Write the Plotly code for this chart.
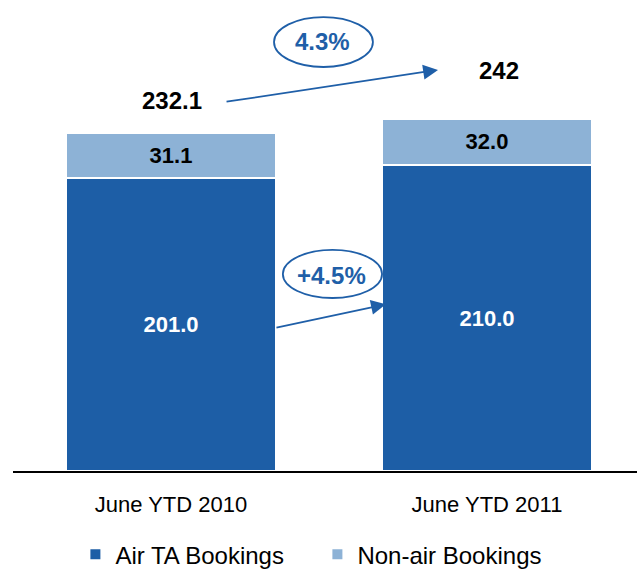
import plotly.graph_objects as go

# Bookings by period (millions)
periods = ["June YTD 2010", "June YTD 2011"]
air_ta = [201.0, 210.0]
non_air = [31.1, 32.0]
total_labels = ["232.1", "242"]
growth_total = "4.3%"
growth_air = "+4.5%"

DARK = "#1D5EA6"
LIGHT = "#8DB2D6"
ACCENT = "#1F5FA8"
FONT = "Liberation Sans, Arial, sans-serif"

totals = [a + n for a, n in zip(air_ta, non_air)]

fig = go.Figure()
fig.add_trace(go.Bar(
    name="Air TA Bookings", x=periods, y=air_ta,
    marker=dict(color=DARK, line=dict(color="white", width=2)),
    text=[f"{v:.1f}" for v in air_ta], textposition="inside",
    insidetextanchor="middle", textangle=0,
    textfont=dict(color="white", size=22, family=FONT, weight="bold"),
    width=0.665,
))
fig.add_trace(go.Bar(
    name="Non-air Bookings", x=periods, y=non_air,
    marker=dict(color=LIGHT, line=dict(color="white", width=2)),
    text=[f"{v:.1f}" for v in non_air], textposition="inside",
    insidetextanchor="middle", textangle=0,
    textfont=dict(color="black", size=22, family=FONT, weight="bold"),
    width=0.665,
))

# Totals above each stack
fig.add_annotation(x=periods[0], y=totals[0], text=total_labels[0],
                   showarrow=False, yshift=32, xshift=1,
                   font=dict(size=24, color="black", family=FONT, weight="bold"))
fig.add_annotation(x=periods[1], y=totals[1], text=total_labels[1],
                   showarrow=False, yshift=48, xshift=12,
                   font=dict(size=24, color="black", family=FONT, weight="bold"))

# Growth arrows (numeric positions along the category axis)
fig.add_annotation(x=0.845, y=275.4, ax=0.171, ay=253.4,
                   xref="x", yref="y", axref="x", ayref="y",
                   showarrow=True, arrowhead=2, arrowsize=1.65,
                   arrowwidth=1.8, arrowcolor=ACCENT, text="")
fig.add_annotation(x=0.68, y=114.5, ax=0.329, ay=98.2,
                   xref="x", yref="y", axref="x", ayref="y",
                   showarrow=True, arrowhead=2, arrowsize=1.65,
                   arrowwidth=1.8, arrowcolor=ACCENT, text="")

# Growth rates in ellipses
fig.add_shape(type="circle", xref="x", yref="y",
              x0=0.326, x1=0.639, y0=277.4, y1=311.7,
              line=dict(color=ACCENT, width=1.8), fillcolor="white")
fig.add_annotation(x=0.481, y=294.6, text=growth_total, showarrow=False,
                   font=dict(size=24, color=ACCENT, family=FONT, weight="bold"))
fig.add_shape(type="circle", xref="x", yref="y",
              x0=0.354, x1=0.668, y0=118.8, y1=151.8,
              line=dict(color=ACCENT, width=1.8), fillcolor="white")
fig.add_annotation(x=0.509, y=133.9, text=growth_air, showarrow=False,
                   font=dict(size=24, color=ACCENT, family=FONT, weight="bold"))

fig.update_layout(
    barmode="stack",
    width=637, height=571,
    margin=dict(l=13, r=0, t=0, b=100, autoexpand=False),
    paper_bgcolor="white", plot_bgcolor="white",
    font=dict(family=FONT, color="black"),
    legend=dict(orientation="h", x=0.1, xanchor="left", y=-0.2255,
                yanchor="bottom", font=dict(size=24, color="black"),
                traceorder="normal", itemwidth=30, entrywidth=197,
                bgcolor="rgba(0,0,0,0)"),
)
fig.update_xaxes(range=[-0.5, 1.4747], showline=True, linecolor="black",
                 linewidth=1.5, showgrid=False, zeroline=False, ticks="",
                 automargin=False,
                 tickfont=dict(size=22, color="black"), ticklabelstandoff=13)
fig.update_yaxes(range=[0, 323.4], visible=False, showgrid=False,
                 automargin=False)

fig.write_html("out.html")
